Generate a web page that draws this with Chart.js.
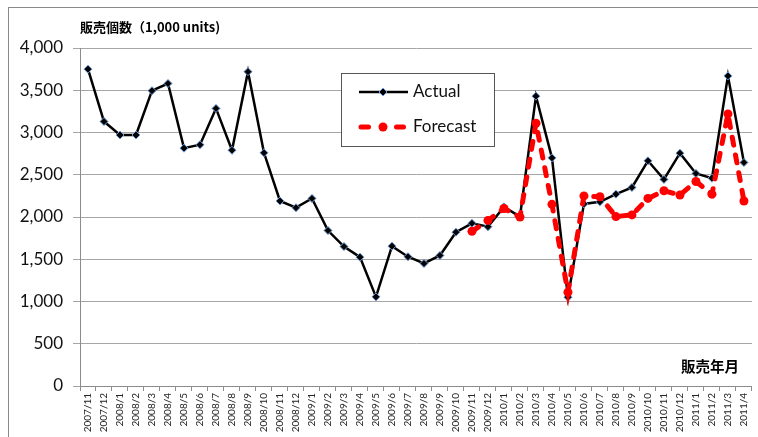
<!DOCTYPE html>
<html>
<head>
<meta charset="utf-8">
<script src="https://cdn.jsdelivr.net/npm/chart.js@4/dist/chart.umd.min.js"></script>
<style>
  html, body { margin: 0; padding: 0; background: #ffffff; }
  #wrap { width: 758px; height: 437px; }
</style>
</head>
<body>
<div id="wrap"><canvas id="c" width="758" height="437"></canvas></div>
<script>
// Monthly sales, 2007/11 – 2011/4 (1,000 units)
const months = [
  '2007/11', '2007/12',
  '2008/1', '2008/2', '2008/3', '2008/4', '2008/5', '2008/6',
  '2008/7', '2008/8', '2008/9', '2008/10', '2008/11', '2008/12',
  '2009/1', '2009/2', '2009/3', '2009/4', '2009/5', '2009/6',
  '2009/7', '2009/8', '2009/9', '2009/10', '2009/11', '2009/12',
  '2010/1', '2010/2', '2010/3', '2010/4', '2010/5', '2010/6',
  '2010/7', '2010/8', '2010/9', '2010/10', '2010/11', '2010/12',
  '2011/1', '2011/2', '2011/3', '2011/4'
];

const actual = [
  3750, 3130,
  2970, 2970, 3495, 3580, 2815, 2855,
  3285, 2790, 3720, 2760, 2190, 2110,
  2220, 1840, 1650, 1525, 1055, 1655,
  1530, 1450, 1545, 1820, 1925, 1885,
  2120, 2005, 3430, 2700, 1050, 2155,
  2180, 2270, 2350, 2665, 2445, 2755,
  2515, 2460, 3670, 2645
];

// Forecast begins at 2009/11
const forecast = [
  null, null,
  null, null, null, null, null, null,
  null, null, null, null, null, null,
  null, null, null, null, null, null,
  null, null, null, null, 1830, 1960,
  2100, 2000, 3110, 2150, 1110, 2250,
  2240, 2005, 2025, 2220, 2310, 2260,
  2420, 2270, 3220, 2190
];

const yTicks = [0, 500, 1000, 1500, 2000, 2500, 3000, 3500, 4000];

const seriesNames = ['Actual', 'Forecast'];
const yTitle = '販売個数（1,000 units)';
const xTitle = '販売年月';

const ACTUAL_COLOR = '#000000';
const ACTUAL_EDGE = '#6f9fd8';
const FORECAST_COLOR = '#ff0000';
const LABEL_FONT = 'Lato, "Liberation Sans", sans-serif';
const CJK_FONT = '"Noto Sans CJK JP", "Noto Sans", sans-serif';

// Frame, axis titles and the floating legend box
const decor = {
  id: 'decor',
  beforeDraw(chart) {
    const ctx = chart.ctx;
    ctx.save();
    ctx.fillStyle = '#ffffff';
    ctx.fillRect(0, 0, chart.width, chart.height);
    ctx.restore();
  },
  afterDraw(chart) {
    const ctx = chart.ctx;
    const area = chart.chartArea;
    ctx.save();

    // outer frame
    ctx.strokeStyle = '#8a8a8a';
    ctx.lineWidth = 1;
    ctx.strokeRect(8.5, 7.5, chart.width + 20, chart.height + 20);

    // axis titles
    ctx.fillStyle = '#000000';
    ctx.font = 'bold 13px ' + CJK_FONT;
    ctx.textBaseline = 'middle';
    ctx.textAlign = 'left';
    ctx.fillText(yTitle, area.left, 27);
    ctx.font = 'bold 14.5px ' + CJK_FONT;
    ctx.textAlign = 'right';
    ctx.fillText(xTitle, 739, 366);

    // legend box
    const bx = 341, by = 73, bw = 153, bh = 73;
    ctx.fillStyle = '#ffffff';
    ctx.fillRect(bx, by, bw, bh);
    ctx.strokeStyle = '#555555';
    ctx.lineWidth = 1;
    ctx.strokeRect(bx + 0.5, by + 0.5, bw, bh);

    // Actual sample
    const y1 = 92, y2 = 127, cx = 383;
    ctx.strokeStyle = ACTUAL_COLOR;
    ctx.lineWidth = 2.5;
    ctx.beginPath();
    ctx.moveTo(359, y1);
    ctx.lineTo(408, y1);
    ctx.stroke();
    ctx.beginPath();
    ctx.moveTo(cx - 4, y1);
    ctx.lineTo(cx, y1 - 4);
    ctx.lineTo(cx + 4, y1);
    ctx.lineTo(cx, y1 + 4);
    ctx.closePath();
    ctx.fillStyle = ACTUAL_COLOR;
    ctx.fill();
    ctx.strokeStyle = ACTUAL_EDGE;
    ctx.lineWidth = 1;
    ctx.stroke();

    // Forecast sample
    ctx.strokeStyle = FORECAST_COLOR;
    ctx.lineWidth = 5;
    ctx.lineCap = 'round';
    ctx.beginPath();
    ctx.moveTo(361, y2);
    ctx.lineTo(368.5, y2);
    ctx.moveTo(396.5, y2);
    ctx.lineTo(403.5, y2);
    ctx.stroke();
    ctx.beginPath();
    ctx.arc(cx, y2, 4.5, 0, Math.PI * 2);
    ctx.fillStyle = FORECAST_COLOR;
    ctx.fill();

    // legend text
    ctx.fillStyle = '#111111';
    ctx.font = '17px ' + LABEL_FONT;
    ctx.textAlign = 'left';
    ctx.textBaseline = 'middle';
    ctx.fillText(seriesNames[0], 413, y1);
    ctx.fillText(seriesNames[1], 413, y2);

    ctx.restore();
  }
};

new Chart(document.getElementById('c'), {
  type: 'line',
  data: {
    labels: months,
    datasets: [
      {
        label: seriesNames[0],
        data: actual,
        order: 1,
        borderColor: ACTUAL_COLOR,
        borderWidth: 2.5,
        tension: 0,
        pointStyle: 'rectRot',
        pointRadius: 4,
        pointBackgroundColor: ACTUAL_COLOR,
        pointBorderColor: ACTUAL_EDGE,
        pointBorderWidth: 1
      },
      {
        label: seriesNames[1],
        data: forecast,
        order: 0,
        borderColor: FORECAST_COLOR,
        borderWidth: 5,
        borderDash: [8, 10],
        borderCapStyle: 'round',
        tension: 0,
        pointStyle: 'circle',
        pointRadius: 4.5,
        pointBackgroundColor: FORECAST_COLOR,
        pointBorderColor: FORECAST_COLOR,
        pointBorderWidth: 0
      }
    ]
  },
  options: {
    responsive: false,
    animation: false,
    devicePixelRatio: 1,
    layout: { padding: { top: 48, right: 4, left: 0, bottom: 0 } },
    plugins: {
      legend: { display: false },
      tooltip: { enabled: false },
      title: { display: false }
    },
    scales: {
      x: {
        offset: true,
        grid: {
          offset: true,
          drawOnChartArea: false,
          drawTicks: true,
          tickLength: 5,
          color: '#8c8c8c'
        },
        border: { color: '#8c8c8c', width: 1 },
        ticks: {
          autoSkip: false,
          maxRotation: 90,
          minRotation: 90,
          padding: 2,
          color: '#222222',
          font: { family: LABEL_FONT, size: 10 }
        },
        afterFit(scale) { scale.height = 51; }
      },
      y: {
        min: yTicks[0],
        max: yTicks[yTicks.length - 1],
        afterBuildTicks(scale) {
          scale.ticks = yTicks.map(v => ({ value: v }));
        },
        grid: { color: '#a6a6a6', lineWidth: 1, tickLength: 7 },
        border: { color: '#8c8c8c', width: 1 },
        ticks: {
          padding: 10,
          color: '#111111',
          font: { family: LABEL_FONT, size: 17 },
          callback: v => v.toLocaleString('en-US')
        },
        afterFit(scale) { scale.width = 80; }
      }
    }
  },
  plugins: [decor]
});
</script>
</body>
</html>
